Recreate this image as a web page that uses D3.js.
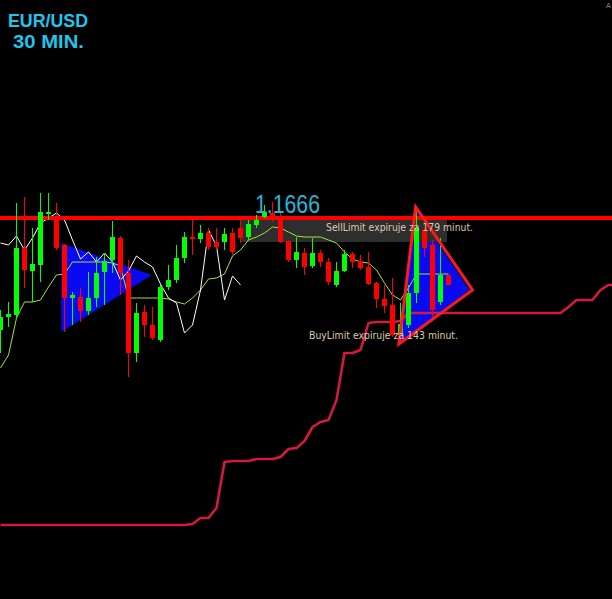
<!DOCTYPE html>
<html><head><meta charset="utf-8">
<script src="https://cdn.jsdelivr.net/npm/d3@7"></script>
<style>html,body{margin:0;padding:0;background:#000;overflow:hidden}svg{display:block}</style>
</head><body>
<script>
// ---- data (prices) ----
const opens  = [1.16434,1.16460,1.16464,1.16598,1.16552,1.16564,1.16666,1.16658,1.16604,1.16498,1.16500,1.16472,1.16498,1.16550,1.16574,1.16618,1.16548,1.16388,1.16470,1.16444,1.16414,1.16520,1.16534,1.16578,1.16620,1.16616,1.16628,1.16610,1.16610,1.16628,1.16638,1.16620,1.16644,1.16660,1.16668,1.16658,1.16612,1.16574,1.16588,1.16562,1.16588,1.16570,1.16524,1.16552,1.16586,1.16572,1.16560,1.16528,1.16496,1.16484,1.16424,1.16444,1.16508,1.16634,1.16604,1.16490,1.16544];
const highs  = [1.16474,1.16490,1.16688,1.16700,1.16638,1.16708,1.16708,1.16688,1.16606,1.16510,1.16518,1.16550,1.16580,1.16588,1.16652,1.16622,1.16574,1.16488,1.16484,1.16480,1.16524,1.16564,1.16604,1.16630,1.16654,1.16644,1.16638,1.16638,1.16638,1.16638,1.16658,1.16654,1.16664,1.16684,1.16690,1.16668,1.16614,1.16620,1.16598,1.16618,1.16594,1.16578,1.16570,1.16594,1.16590,1.16584,1.16590,1.16530,1.16524,1.16538,1.16488,1.16524,1.16674,1.16638,1.16614,1.16618,1.16544];
const lows   = [1.16388,1.16440,1.16460,1.16518,1.16490,1.16530,1.16654,1.16594,1.16430,1.16444,1.16450,1.16464,1.16480,1.16484,1.16548,1.16504,1.16340,1.16370,1.16420,1.16414,1.16410,1.16514,1.16528,1.16568,1.16584,1.16608,1.16594,1.16594,1.16594,1.16584,1.16608,1.16614,1.16638,1.16658,1.16650,1.16608,1.16570,1.16558,1.16544,1.16558,1.16560,1.16524,1.16520,1.16550,1.16558,1.16554,1.16524,1.16478,1.16468,1.16420,1.16420,1.16438,1.16488,1.16580,1.16458,1.16484,1.16524];
const closes = [1.16460,1.16466,1.16598,1.16554,1.16566,1.16670,1.16670,1.16598,1.16498,1.16504,1.16472,1.16498,1.16548,1.16572,1.16620,1.16548,1.16388,1.16468,1.16444,1.16418,1.16520,1.16534,1.16578,1.16620,1.16616,1.16628,1.16600,1.16600,1.16626,1.16590,1.16618,1.16646,1.16654,1.16670,1.16658,1.16610,1.16574,1.16590,1.16560,1.16588,1.16570,1.16530,1.16552,1.16586,1.16570,1.16558,1.16526,1.16496,1.16482,1.16424,1.16446,1.16508,1.16638,1.16598,1.16474,1.16544,1.16524];
// white indicator line (first 31 bars)
const whiteLine = [1.16608,1.16604,1.16622,1.16594,1.16618,1.16648,1.16658,1.16668,1.16654,1.16614,1.16576,1.16590,1.16570,1.16588,1.16570,1.16534,1.16552,1.16582,1.16570,1.16560,1.16526,1.16498,1.16488,1.16428,1.16444,1.16514,1.16634,1.16602,1.16494,1.16542,1.16524];
// yellow-green indicator line
const greenLine = [1.16358,1.16384,1.16458,1.16490,1.16490,1.16494,1.16520,1.16544,1.16546,1.16570,1.16570,1.16570,1.16570,1.16570,1.16568,1.16562,1.16498,1.16498,1.16498,1.16498,1.16498,1.16496,1.16490,1.16486,1.16498,1.16514,1.16536,1.16538,1.16546,1.16582,1.16594,1.16614,1.16620,1.16628,1.16640,1.16638,1.16630,1.16622,1.16620,1.16620,1.16620,1.16614,1.16608,1.16590,1.16576,1.16570,1.16568,1.16554,1.16528,1.16504,1.16494,1.16518,1.16546,1.16546,1.16546,1.16546,1.16546];
// crimson indicator line (extends beyond last bar)
const crimsonLine = [1.16044,1.16044,1.16044,1.16044,1.16044,1.16044,1.16044,1.16044,1.16044,1.16044,1.16044,1.16044,1.16044,1.16044,1.16044,1.16044,1.16044,1.16044,1.16044,1.16044,1.16044,1.16044,1.16044,1.16044,1.16046,1.16058,1.16058,1.16078,1.16170,1.16172,1.16172,1.16172,1.16176,1.16176,1.16176,1.16180,1.16196,1.16198,1.16212,1.16240,1.16250,1.16254,1.16294,1.16388,1.16388,1.16394,1.16448,1.16450,1.16450,1.16450,1.16452,1.16468,1.16468,1.16468,1.16468,1.16468,1.16468,1.16468,1.16468,1.16468,1.16468,1.16468,1.16468,1.16468,1.16468,1.16468,1.16468,1.16468,1.16468,1.16468,1.16468,1.16480,1.16494,1.16494,1.16494,1.16514,1.16524,1.16524];
const levelPrice = 1.16658;
const levelLabel = "1.1666";
// triangles: [barIndex, price]
const triangle1 = [[7.6,1.16608],[7.6,1.16430],[18.9,1.16544]];
const triangle2 = [[51.9,1.16674],[49.9,1.16408],[58.6,1.16514]];
const triangle2Outline = [[51.9,1.16680],[59.0,1.16514],[49.8,1.16406]];
const titleLines = ["EUR/USD","30 MIN."];
const sellText = "SellLimit expiruje za 179 minut.";
const buyText = "BuyLimit expiruje za 143 minut.";

const W=612,H=599;
const svg=d3.select("body").append("svg").attr("width",W).attr("height",H);
svg.append("rect").attr("width",W).attr("height",H).attr("fill","#000");

const x=d3.scaleLinear().domain([0,76]).range([0.5,608.5]);
const y=d3.scaleLinear().domain([1.15896,1.17094]).range([H,0]);

const tri=d3.line().x(d=>x(d[0])).y(d=>y(d[1]));
svg.append("path").attr("d",tri(triangle1)+"Z").attr("fill","#0a0af0");
svg.append("path").attr("d",tri(triangle2)+"Z").attr("fill","#0a0af0");

// sell label background
svg.append("rect").attr("x",240).attr("y",220).attr("width",207).attr("height",22).attr("fill","#2e2e2e");

const line=d3.line().x((d,i)=>x(i)).y(d=>y(d));
svg.append("path").attr("d",line(crimsonLine)).attr("fill","none").attr("stroke","#d21a3e").attr("stroke-width",2.6).attr("stroke-linejoin","round");
svg.append("path").attr("d",line(greenLine)).attr("fill","none").attr("stroke","#a6e03a").attr("stroke-width",1);
svg.append("path").attr("d",line(whiteLine)).attr("fill","none").attr("stroke","#ffffff").attr("stroke-width",1);

// level line
svg.append("line").attr("x1",0).attr("x2",W).attr("y1",y(levelPrice)).attr("y2",y(levelPrice)).attr("stroke","#ff0000").attr("stroke-width",4);

// candles
const bars=d3.range(opens.length).map(i=>({i,o:opens[i],h:highs[i],l:lows[i],c:closes[i]}));
const g=svg.append("g").attr("shape-rendering","crispEdges");
g.selectAll("line.w").data(bars).join("line").attr("class","w")
 .attr("x1",d=>x(d.i)).attr("x2",d=>x(d.i)).attr("y1",d=>y(d.h)).attr("y2",d=>y(d.l))
 .attr("stroke",d=>d.c>=d.o?"#00ff00":"#ff0000").attr("stroke-width",1);
g.selectAll("rect.b").data(bars).join("rect").attr("class","b")
 .attr("x",d=>x(d.i)-2.5).attr("width",5)
 .attr("y",d=>y(Math.max(d.o,d.c))).attr("height",d=>Math.max(1.5,Math.abs(y(d.o)-y(d.c))))
 .attr("fill",d=>d.c>=d.o?"#00ff00":"#ff0000");

svg.append("path").attr("d",tri(triangle2Outline)+"Z").attr("fill","none").attr("stroke","#ff1a1a").attr("stroke-width",3).attr("stroke-linejoin","miter");

// texts
svg.append("text").attr("x",255).attr("y",y(levelPrice)-5).text(levelLabel)
 .attr("font-family","Liberation Sans, Arial, sans-serif").attr("font-size",26).attr("fill","#2ab4d6")
 .attr("textLength",65).attr("lengthAdjust","spacingAndGlyphs");
svg.append("text").attr("x",326).attr("y",231).text(sellText)
 .attr("font-family","DejaVu Sans, sans-serif").attr("font-size",10.5).attr("fill","#dccbaa")
 .attr("textLength",147).attr("lengthAdjust","spacingAndGlyphs");
svg.append("text").attr("x",309).attr("y",339).text(buyText)
 .attr("font-family","DejaVu Sans, sans-serif").attr("font-size",10.5).attr("fill","#dccbaa")
 .attr("textLength",149).attr("lengthAdjust","spacingAndGlyphs");
svg.append("text").attr("x",8).attr("y",26.5).text(titleLines[0])
 .attr("font-family","Liberation Sans, Arial, sans-serif").attr("font-weight","bold").attr("font-size",18).attr("fill","#1ec6ec")
 .attr("textLength",80).attr("lengthAdjust","spacingAndGlyphs");
svg.append("text").attr("x",13).attr("y",47.5).text(titleLines[1])
 .attr("font-family","Liberation Sans, Arial, sans-serif").attr("font-weight","bold").attr("font-size",18).attr("fill","#1ec6ec")
 .attr("textLength",71).attr("lengthAdjust","spacingAndGlyphs");
svg.append("text").attr("x",606).attr("y",8).text("A")
 .attr("font-family","DejaVu Sans, sans-serif").attr("font-size",7).attr("fill","#8a8a8a");
</script>
</body></html>
